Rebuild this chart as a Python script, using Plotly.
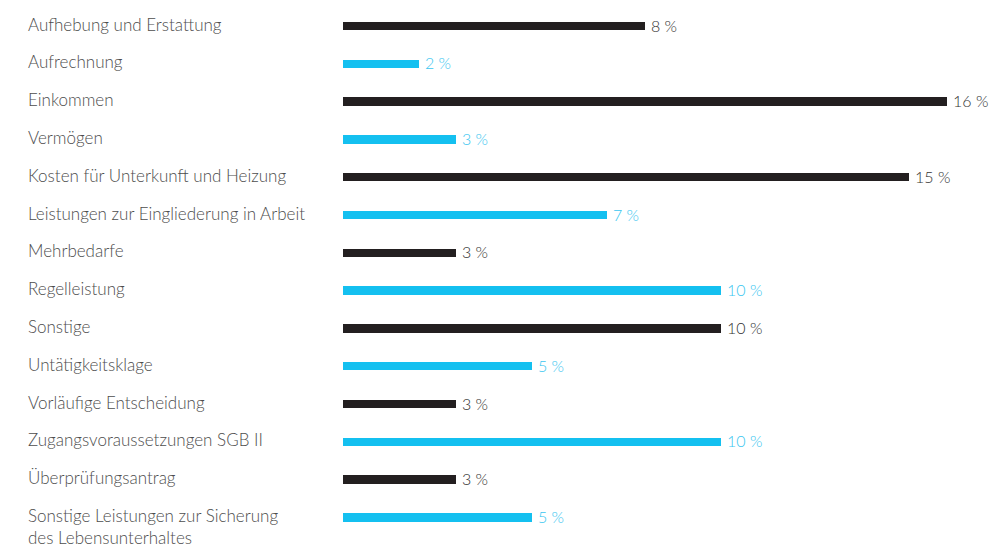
import plotly.graph_objects as go

categories = [
    "Aufhebung und Erstattung",
    "Aufrechnung",
    "Einkommen",
    "Vermögen",
    "Kosten für Unterkunft und Heizung",
    "Leistungen zur Eingliederung in Arbeit",
    "Mehrbedarfe",
    "Regelleistung",
    "Sonstige",
    "Untätigkeitsklage",
    "Vorläufige Entscheidung",
    "Zugangsvoraussetzungen SGB II",
    "Überprüfungsantrag",
    "Sonstige Leistungen zur Sicherung<br>des Lebensunterhaltes",
]
shares = [8, 2, 16, 3, 15, 7, 3, 10, 10, 5, 3, 10, 3, 5]

DARK = "#231f20"
CYAN = "#14c0f0"
DARK_TEXT = "#333333"
CYAN_TEXT = "#3ac6f0"
LABEL_GREY = "#4d4d4d"
FONT = "Lato"

W, H = 1008, 548
PX_PER_UNIT = 37.75       # horizontal scale: pixels per percentage point
X0_PX = 343               # pixel where bars start
ROW0_PX = 26              # pixel centre of the first row
ROW_STEP = 37.8           # pixel distance between rows
LABEL_PX = 28             # pixel left edge of category labels

n = len(categories)
rows = list(range(n))
bar_colors = [DARK if i % 2 == 0 else CYAN for i in rows]
text_colors = [DARK_TEXT if i % 2 == 0 else CYAN_TEXT for i in rows]

x_min = -X0_PX / PX_PER_UNIT
x_max = (W - X0_PX) / PX_PER_UNIT
y_top = -ROW0_PX / ROW_STEP
y_bottom = (H - ROW0_PX) / ROW_STEP

fig = go.Figure(
    go.Bar(
        x=shares,
        y=rows,
        orientation="h",
        width=8.5 / ROW_STEP,
        marker=dict(color=bar_colors, line=dict(width=0)),
        hoverinfo="skip",
    )
)

# value labels just past the end of each bar
for i, v in enumerate(shares):
    fig.add_annotation(
        x=v,
        y=i,
        xref="x",
        yref="y",
        text=f"{v} %",
        showarrow=False,
        xanchor="left",
        yanchor="middle",
        xshift=5,
        yshift=1,
        borderpad=0,
        font=dict(family=FONT, size=16, weight=300, color=text_colors[i]),
    )

# category labels, left aligned
label_x = (LABEL_PX - X0_PX) / PX_PER_UNIT
for i, name in enumerate(categories):
    two_lines = "<br>" in name
    fig.add_annotation(
        x=label_x,
        y=i,
        xref="x",
        yref="y",
        text=name,
        showarrow=False,
        xanchor="left",
        yanchor="middle",
        align="left",
        borderpad=0,
        xshift=-1,
        yshift=-9 if two_lines else 2,
        font=dict(family=FONT, size=17, weight=300, color=LABEL_GREY),
    )

fig.update_layout(
    width=W,
    height=H,
    margin=dict(l=0, r=0, t=0, b=0),
    paper_bgcolor="white",
    plot_bgcolor="white",
    showlegend=False,
    bargap=0,
    xaxis=dict(range=[x_min, x_max], visible=False, fixedrange=True),
    yaxis=dict(range=[y_bottom, y_top], visible=False, fixedrange=True),
)

fig.write_html("out.html")
